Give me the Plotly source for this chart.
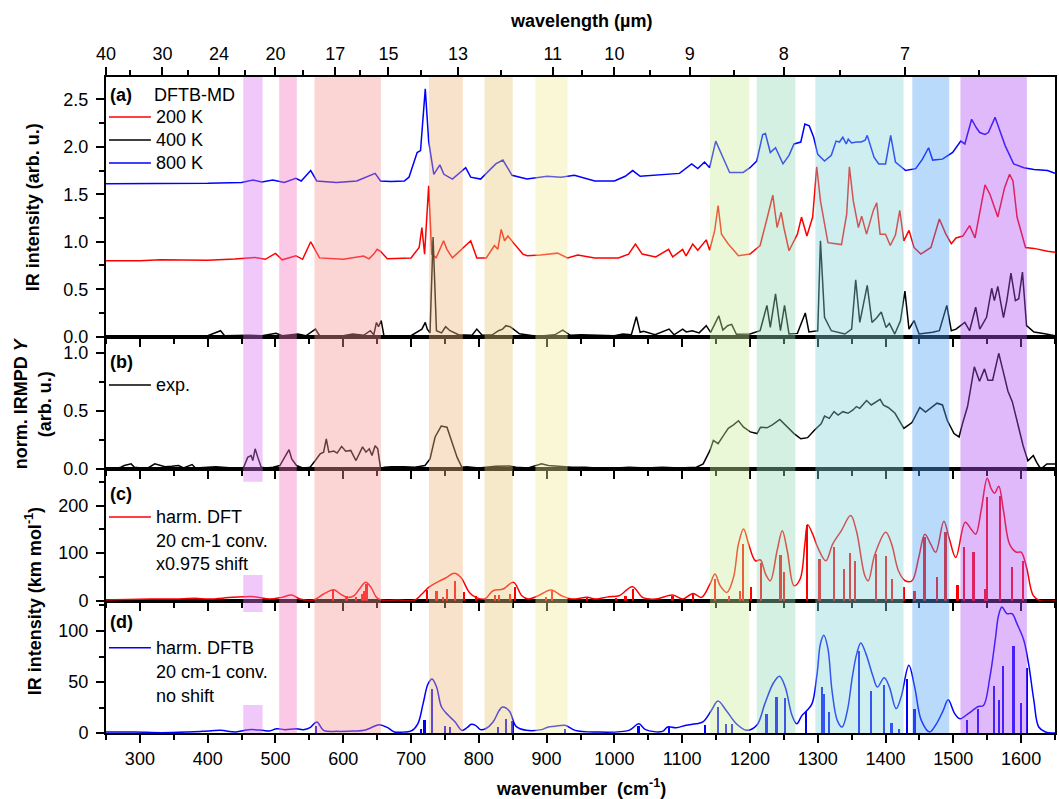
import plotly.graph_objects as go

# ---------------- data ----------------
# Panel (a): DFTB-MD spectra (wavenumber, intensity)
a800_x = [250,300,350,400,450,467,480,496,513,530,538,552,561,590,620,635,647,655,670,690,697,709,714,721,726,733.6,742.5,748.5,761,780.6,788,802.6,815,825,835.5,842,849,871,901,921,941,971,1000,1016,1027,1038,1071,1096,1114,1123,1133,1140.5,1149.5,1158,1170,1190,1200,1210,1218.8,1222.8,1230,1237.7,1248.7,1257.6,1265,1275,1281,1287.5,1294,1300,1310,1320,1323,1327,1332,1337,1342,1345,1350,1357,1364,1370,1373,1378,1383,1390,1400,1407.6,1414.6,1429.6,1444.5,1454.5,1463.5,1469.5,1484,1499,1511,1517,1527,1534,1539,1546.7,1551.7,1561.6,1569,1576.6,1589,1604,1619,1639,1650]
a800_y = [1.61,1.61,1.612,1.615,1.625,1.65,1.63,1.65,1.625,1.667,1.64,1.75,1.64,1.625,1.64,1.68,1.72,1.64,1.635,1.64,1.68,1.94,1.96,2.61,2.06,1.71,1.81,1.71,1.66,1.78,1.68,1.66,1.75,1.82,1.86,1.78,1.70,1.66,1.69,1.68,1.70,1.64,1.64,1.69,1.75,1.69,1.71,1.72,1.82,1.77,1.84,1.78,2.06,1.92,1.73,1.73,1.78,1.85,2.13,2.14,1.94,1.99,1.82,1.91,2.03,2.05,2.24,2.22,2.10,1.92,1.85,1.91,1.98,2.06,2.05,2.10,2.03,2.08,2.04,2.05,2.05,2.07,2.12,2.00,1.89,1.82,1.82,2.12,1.84,1.75,1.77,1.87,1.99,1.86,1.87,1.94,2.06,2.03,2.29,2.20,2.15,2.13,2.15,2.31,2.17,2.01,1.82,1.78,1.76,1.75,1.72]

a200_x = [250,300,330,360,400,440,470,485,500,510,530,540,552,565,600,630,638,645,650,655,665,700,712,716,720,726,730.5,737,748,753,761,788,797,811,823,828,833,838,843,852,865,871.4,891,916,931,946,971,1006,1021,1031,1041,1061,1080,1086,1100.7,1105.7,1115.6,1123,1135.5,1140.5,1148,1153,1158,1168,1175.4,1183,1200,1215,1225,1233.7,1240,1246,1250,1257.6,1270,1276,1284,1292.5,1298.5,1304,1315,1335,1342.7,1346.7,1352.4,1360,1364.8,1372,1382,1387,1392,1400,1407,1414.6,1421,1427,1434.6,1442,1452,1467,1479.4,1489,1497,1504,1514,1524,1532,1539,1546.7,1554,1565.6,1575.6,1583,1588,1594,1606.5,1619,1639,1650]
a200_y = [0.80,0.80,0.81,0.805,0.805,0.818,0.835,0.815,0.877,0.81,0.853,0.815,1.00,0.83,0.815,0.85,0.82,0.87,0.92,0.90,0.82,0.83,0.94,1.15,0.87,1.59,0.87,0.83,1.01,0.92,0.83,1.01,0.83,0.83,0.96,0.92,1.13,1.01,1.06,0.98,0.87,0.853,0.86,0.88,0.83,0.86,0.83,0.83,0.87,0.976,0.87,0.84,0.92,0.84,0.92,0.85,0.976,0.91,1.02,0.91,1.12,1.38,1.08,0.976,0.92,0.853,0.87,0.96,1.24,1.49,1.15,1.31,1.15,0.905,1.08,1.26,1.06,1.26,1.79,1.43,0.99,0.97,1.29,1.79,1.43,1.15,1.27,1.08,1.33,1.41,1.08,1.08,0.96,1.07,1.33,1.01,1.12,0.94,0.87,0.94,1.24,1.08,0.98,1.04,1.06,1.17,1.04,1.29,1.60,1.50,1.26,1.57,1.71,1.64,1.26,0.94,0.93,0.90,0.89]

a400_x = [250,300,350,400,419,425,460,480,501,510,533,545,559,565,600,614,630,640,645,649,652,656,660,700,716,721,724,728,732.5,737.5,745,751,757.5,770,790,797,805,820,829,835,840,846,851,860,880,896,912,923.8,935,951,1000,1012.5,1025,1032.4,1038,1043,1060,1080.7,1088,1100.7,1106,1115,1125,1135.5,1142,1154,1160,1167,1173,1180,1200,1215,1225,1230,1237.7,1245,1251,1257.6,1270,1281.6,1287,1300,1304,1310,1320,1340,1350,1356,1362,1373,1380,1387,1393.7,1400.7,1405.7,1413.6,1422,1428.6,1434.6,1442,1449.5,1469.5,1479.4,1490.4,1497,1504,1517,1524,1533,1539,1549,1556.6,1560.6,1565.6,1574,1579,1585,1591.6,1596.5,1602,1608,1619,1635,1650]
a400_y = [0.005,0.005,0.008,0.01,0.063,0.01,0.015,0.01,0.035,0.01,0.028,0.01,0.08,0.01,0.01,0.028,0.015,0.063,0.02,0.15,0.105,0.17,0.01,0.01,0.08,0.15,0.08,0.04,1.05,0.063,0.04,0.105,0.063,0.02,0.015,0.08,0.015,0.02,0.063,0.08,0.116,0.105,0.08,0.03,0.01,0.01,0.02,0.07,0.015,0.02,0.01,0.028,0.02,0.21,0.046,0.056,0.02,0.08,0.02,0.08,0.05,0.063,0.04,0.116,0.046,0.22,0.07,0.116,0.13,0.025,0.028,0.063,0.33,0.098,0.45,0.063,0.33,0.028,0.035,0.25,0.05,0.063,1.01,0.204,0.063,0.028,0.08,0.60,0.15,0.54,0.15,0.2,0.26,0.098,0.14,0.028,0.168,0.48,0.08,0.17,0.028,0.046,0.063,0.33,0.063,0.08,0.15,0.063,0.31,0.08,0.204,0.51,0.38,0.53,0.20,0.38,0.67,0.38,0.40,0.68,0.116,0.05,0.03,0.01]

# Panel (b): experimental IRMPD yield
exp_x = [250,265,272,277,287,292,302,312,322,327,337,347,357,364.5,377,382,402,412,437,452.7,459,464,466.6,470,474,479,486.5,496.5,506.5,513,520,524,531,541,551,558.8,566,571,575,578.7,586,591,597.6,603.6,611,618.8,628.5,633.5,638.4,642.4,647,650.9,655,661,671,690,705.6,720.6,728,735.5,744.5,753,760,768,775,782,800,810,825,845,855,872.7,892.5,902.5,922.4,937,957,972,997,1021.7,1046.5,1071,1096,1121,1131,1141,1146,1153,1161,1168,1175.7,1183,1190.6,1200.5,1210.5,1215.5,1225,1233,1244,1255,1265,1275,1285,1295,1305,1310,1317,1324,1330,1337,1344.6,1352,1357,1362,1372,1379,1392,1397,1404,1414,1427,1439,1450.6,1459,1476,1484,1491,1501,1508.5,1513.5,1521,1531,1538.6,1546,1551,1558,1567,1574,1580.6,1587,1593,1603,1610,1618,1623,1629,1638,1650]
exp_y = [0,0.005,0.015,0.03,0.044,0.015,0.009,0.009,0.044,0.035,0.02,0.023,0.03,0.009,0.038,0.009,0.015,0.02,0.009,0.009,0.10,0.116,0.073,0.174,0.10,0.015,0.009,0.015,0.03,0.10,0.166,0.087,0.03,0.006,0.015,0.073,0.13,0.145,0.26,0.145,0.154,0.137,0.195,0.154,0.16,0.073,0.19,0.145,0.174,0.116,0.20,0.174,0.006,0.015,0.02,0.02,0.015,0.03,0.087,0.276,0.37,0.36,0.23,0.10,0.015,0.02,0.009,0.015,0.023,0.026,0.015,0.009,0.044,0.03,0.02,0.015,0.015,0.009,0.006,0.015,0.009,0.015,0.009,0.015,0.044,0.16,0.247,0.218,0.29,0.35,0.38,0.416,0.36,0.32,0.305,0.36,0.355,0.38,0.427,0.36,0.305,0.26,0.27,0.334,0.39,0.456,0.436,0.494,0.465,0.494,0.48,0.509,0.538,0.523,0.59,0.552,0.60,0.55,0.53,0.48,0.35,0.40,0.53,0.49,0.567,0.552,0.42,0.305,0.276,0.39,0.538,0.88,0.756,0.863,0.765,0.765,0.997,0.83,0.67,0.58,0.44,0.20,0.07,0.116,0.058,0.0,0.044,0.044]

# Panel (c): harmonic DFT, convoluted curve and stick spectrum
dft_x = [250,317,352,382,402,437,469,491.5,509,524,536,556,571,586,596,606,616,624,633,641,649,656,681,706,716,726,741,751,763.5,773.6,786,796,808.8,821,836,851,863.5,872.7,887.6,906.5,922,937,960,972,992,1007,1026.7,1041.6,1061,1086,1101,1116,1128.5,1141,1148.4,1156,1166,1175.7,1183,1190.6,1198,1208,1215.5,1223,1230,1240,1247.7,1255,1265,1274,1281,1285,1292.5,1300,1312,1322,1334.7,1348.6,1357,1369.5,1374.4,1384.4,1400.3,1409,1419,1429,1439,1449,1458,1466.6,1474,1486,1493.6,1503.6,1517.5,1526,1533,1541,1550,1556,1561,1567,1574,1583,1593,1600,1608,1618,1628,1650]
dft_y = [1.4,3.5,3.5,4.9,3.5,7,8.4,3.5,7,12,3.5,1.4,14,23,14,7,10.5,24.6,38.6,28,7,1.4,1.4,1.4,14,28,40.7,47.7,57.5,49,17.5,7,3.5,21,24.6,38.6,10.5,3.5,10.5,22.5,10.5,3.5,7,3.5,8.4,10.5,29.5,7,3.5,12,3.5,15.4,7,35,56,31.6,17.5,49,119,151,119,84,85.6,56,42,105,147,105,31.6,45.6,119,160,140,112,84,119,147,179,147,52.6,42,98,144,119,63,42,42,91,140,119,102,167,133,91,165,151,140,189.5,257.5,235,226,240.7,189.5,119,102,102,70,10.5,0,0]
dft_stick_x = [585.7,605,619.5,628.5,631,634.5,724,738,748,753,765.6,778,795.7,824.6,829.7,846,853.6,900,908.4,959.6,1002.8,1016.7,1028,1086,1116,1148.4,1169.7,1185.6,1189.6,1201.5,1217,1245.3,1251,1284.5,1302.9,1324.7,1338.6,1348,1355.5,1386.8,1400.7,1410,1427.6,1443,1458,1476.6,1489,1506.7,1516.6,1530,1548,1550,1569.4,1587.3,1602.7]
dft_stick_y = [22,10,7,14,21,35,22,21,7,24.6,40.7,19,9,12,12.6,14,28,7,21,8.4,5,10.5,24.6,10.5,14,45.6,10.5,21,119,29.5,79,97,60,159,88,114,67,100,84,98,95,45.6,28,21,135,50.5,144,33.7,112,102,24.6,217.5,219.6,70,84]

# Panel (d): harmonic DFTB, convoluted curve and stick spectrum
dftb_x = [250,292,332,372,392,419,441.4,461,481,491,502,513.6,531,541,551,561,571,591,616,631,641,653,665.5,675.5,690.6,700.4,710,717.8,725,731,737.7,745,755,765,775,782.6,789,795,802.5,810,821,830,835,845,855,870,892.6,902.5,912.4,927,942,972,1021.5,1036,1046,1071,1078.5,1091,1105.7,1120.6,1130.5,1143,1152.8,1165,1180,1195,1210,1222,1234.6,1243.6,1252,1262,1269,1276.8,1284,1291.6,1299,1304,1309,1315,1321,1328.8,1336,1343.7,1351,1357.6,1363.5,1371,1381,1388,1398,1405.7,1415.6,1423,1434.4,1443,1452.8,1465,1475,1485,1492.4,1502,1509.8,1522,1532,1537,1544.5,1554,1561.8,1566.8,1571.7,1579,1586.6,1594,1604,1611,1618.8,1626,1636,1650]
dftb_y = [1,1,0.3,1,1.6,2.6,1,3.3,2.6,2,4.2,3.3,4.2,3.3,5.2,10.8,2.6,1.6,2,2.6,5.2,8.2,5.2,1,1,2,9,28.8,48,53,45,25.5,17.3,10.8,2.6,5.2,8.5,7.5,3.3,4.2,10.8,22,25.5,21.6,6.5,2.6,3.3,5.9,6.5,7.5,2.6,1,2.6,9,3.3,1.6,5.9,5.2,7.5,9,10.8,22,31.4,22,9,2.6,7.5,28.8,49,55.6,45,17.3,9,17.3,22,28.8,58,87.6,95.8,82.7,41.8,12.4,5.9,22,55,77.8,88.2,77.8,56.5,45,54.2,45,23.9,35.3,66.3,45,12.4,1,9,22,32.7,19,14,19,23.9,26,27,55,91,115.4,123.5,117,117,107,91,68,32,5.9,1,0]
dftb_stick_x = [560,715.3,720.3,731.8,751,757.7,829,841,850,927,1036,1081,1134.5,1152.8,1165.2,1173.7,1224.7,1239.6,1252,1283.2,1307,1310,1317.4,1361,1378.4,1398.2,1409,1420.6,1432,1443,1521,1537,1560,1568,1574,1589,1600,1609]
dftb_stick_y = [7.5,4.2,13.4,43.5,7.5,6.5,6,14,11.8,4.2,7.5,5.9,8.5,26,9,9,19,36,34.6,22,45.8,38.6,21.2,81,41.8,47.7,10,4.2,53.3,23.9,13,23.9,46,32.7,66.3,86,29.7,64]

# Wavelength axis (µm)
wl_major = [40, 30, 24, 20, 17, 15, 13, 11, 10, 9, 8, 7]
wl_minor = [35, 27, 22, 18.5, 16, 14, 12, 10.5, 9.5, 8.5, 7.5, 6.5]

# Highlighted bands (cm-1)
band_lo = [452.5, 505.5, 557.5, 726.5, 808.5, 883.5, 1141, 1210, 1296.5, 1439.5, 1510.5]
band_hi = [481, 531.5, 655.5, 776.5, 850, 931, 1199, 1267, 1426.5, 1494, 1608.5]
band_col = ["rgba(218,118,243,0.4)", "rgba(245,117,193,0.4)", "rgba(245,150,147,0.4)",
            "rgba(238,183,128,0.4)", "rgba(233,200,122,0.4)", "rgba(242,235,155,0.4)",
            "rgba(205,238,155,0.4)", "rgba(148,218,183,0.4)", "rgba(133,213,218,0.4)",
            "rgba(80,163,243,0.4)", "rgba(175,80,243,0.4)"]

# ---------------- figure ----------------
FONT = "Liberation Sans, Arial, sans-serif"
W, H = 1059, 799
ML, MR, MT, MB = 106, 2, 77, 66
PW, PH = W - ML - MR, H - MT - MB


def px(xp):
    return (xp - ML) / PW


def py(yp):
    return (H - MB - yp) / PH


RED, BLUE, BLACK = "#ff0000", "#0000ff", "#000000"

fig = go.Figure()
# (d)
fig.add_trace(go.Bar(x=dftb_stick_x, y=dftb_stick_y, width=2.6, marker=dict(color=BLUE, line=dict(width=0)),
                     xaxis="x", yaxis="y", showlegend=False, hoverinfo="skip"))
fig.add_trace(go.Scatter(x=dftb_x, y=dftb_y, mode="lines", line=dict(color=BLUE, width=1.5, shape="spline", smoothing=1.0),
                         xaxis="x", yaxis="y", showlegend=False))
# (c)
fig.add_trace(go.Bar(x=dft_stick_x, y=dft_stick_y, width=2.6, marker=dict(color=RED, line=dict(width=0)),
                     xaxis="x2", yaxis="y2", showlegend=False, hoverinfo="skip"))
fig.add_trace(go.Scatter(x=dft_x, y=dft_y, mode="lines", line=dict(color=RED, width=1.5, shape="spline", smoothing=1.0),
                         xaxis="x2", yaxis="y2", showlegend=False))
# (b)
fig.add_trace(go.Scatter(x=exp_x, y=exp_y, mode="lines", line=dict(color=BLACK, width=1.5),
                         xaxis="x3", yaxis="y3", showlegend=False))
# (a)
fig.add_trace(go.Scatter(x=a200_x, y=a200_y, mode="lines", line=dict(color=RED, width=1.5),
                         xaxis="x4", yaxis="y4", showlegend=False))
fig.add_trace(go.Scatter(x=a800_x, y=a800_y, mode="lines", line=dict(color=BLUE, width=1.5),
                         xaxis="x4", yaxis="y4", showlegend=False))
fig.add_trace(go.Scatter(x=a400_x, y=a400_y, mode="lines", line=dict(color=BLACK, width=1.5),
                         xaxis="x4", yaxis="y4", showlegend=False))
# dummy trace to activate top wavelength axis
fig.add_trace(go.Scatter(x=[1000], y=[1], mode="markers", marker=dict(opacity=0),
                         xaxis="x5", yaxis="y4", showlegend=False, hoverinfo="skip"))

tickfont = dict(family=FONT, size=18, color="black")
common_x = dict(range=[250, 1650], tick0=0, dtick=100, ticks="outside", ticklen=8, tickwidth=2,
                tickcolor="black", showline=True, linewidth=2, linecolor="black", mirror=True,
                showgrid=False, zeroline=False, tickfont=tickfont,
                minor=dict(tick0=0, dtick=50, ticks="outside", ticklen=5, tickwidth=2, tickcolor="black"))


def yax(domain, rng, dtick, mdtick, fmt=None):
    d = dict(domain=domain, range=rng, tick0=0, dtick=dtick, ticks="outside", ticklen=8, tickwidth=2,
             tickcolor="black", showline=True, linewidth=2, linecolor="black", mirror=True,
             showgrid=False, zeroline=False, tickfont=tickfont, ticklabelstandoff=4,
             minor=dict(tick0=0, dtick=mdtick, ticks="outside", ticklen=5, tickwidth=2, tickcolor="black"))
    if fmt:
        d["tickformat"] = fmt
    return d


b_cd = py(600.7)
b_bc = py(469)
b_ab = py(336.7)

wl_vals = [10000.0 / w for w in wl_major]
wl_minor_vals = [10000.0 / w for w in wl_minor]

fig.update_layout(
    width=W, height=H, margin=dict(l=ML, r=MR, t=MT, b=MB),
    paper_bgcolor="white", plot_bgcolor="white",
    font=dict(family=FONT, size=18, color="black"),
    showlegend=False, bargap=0,
    xaxis=dict(common_x, anchor="y", domain=[0, 1]),
    xaxis2=dict(common_x, anchor="y2", domain=[0, 1], showticklabels=False, matches="x"),
    xaxis3=dict(common_x, anchor="y3", domain=[0, 1], showticklabels=False, matches="x"),
    xaxis4=dict(common_x, anchor="y4", domain=[0, 1], showticklabels=False, matches="x"),
    xaxis5=dict(overlaying="x4", anchor="y4", side="top", range=[250, 1650], tickmode="array",
                tickvals=wl_vals, ticktext=[str(w) for w in wl_major], ticks="outside", ticklen=8,
                tickwidth=2, tickcolor="black", showline=True, linewidth=2, linecolor="black",
                showgrid=False, zeroline=False, tickfont=tickfont,
                minor=dict(tickmode="array", tickvals=wl_minor_vals, ticks="outside", ticklen=5,
                           tickwidth=2, tickcolor="black")),
    yaxis=yax([0, b_cd], [0, 129.7], 50, 25),
    yaxis2=yax([b_cd, b_bc], [0, 277], 100, 50),
    yaxis3=yax([b_bc, b_ab], [0, 1.14], 0.5, 0.25, ".1f"),
    yaxis4=yax([b_ab, 1], [0, 2.735], 0.5, 0.25, ".1f"),
)

shapes = []
for lo, hi, col in zip(band_lo, band_hi, band_col):
    shapes.append(dict(type="rect", xref="x", yref="paper", x0=lo, x1=hi, y0=0, y1=1,
                       fillcolor=col, line=dict(width=0), layer="above"))
# white legend backgrounds in (c) and (d)
shapes.append(dict(type="rect", xref="x2", yref="y2", x0=253, x1=486, y0=54, y1=250,
                   fillcolor="white", line=dict(width=0), layer="above"))
shapes.append(dict(type="rect", xref="x", yref="y", x0=253, x1=486, y0=27.5, y1=118.6,
                   fillcolor="white", line=dict(width=0), layer="above"))
# legend line samples
for yp, col in [(117, RED), (140, BLACK), (163, BLUE), (385, BLACK), (517, RED), (647.7, BLUE)]:
    shapes.append(dict(type="line", xref="paper", yref="paper", x0=px(109), x1=px(151), y0=py(yp), y1=py(yp),
                       line=dict(color=col, width=1.5), layer="above"))
fig.update_layout(shapes=shapes)

ann = []


def txt(text, xp, yp, xanchor="left", angle=0, yanchor="middle"):
    ann.append(dict(text=text, x=px(xp), y=py(yp), xref="paper", yref="paper", xanchor=xanchor,
                    yanchor=yanchor, showarrow=False, textangle=angle, font=dict(family=FONT, size=18, color="black")))


txt("<b>(a)</b>", 108, 95)
txt("DFTB-MD", 152, 95)
txt("200 K", 154, 117)
txt("400 K", 154, 140)
txt("800 K", 154, 163)
txt("<b>(b)</b>", 108, 362)
txt("exp.", 154, 385)
txt("<b>(c)</b>", 108, 494)
txt("harm. DFT", 154, 517)
txt("20 cm-1 conv.", 154, 541)
txt("x0.975 shift", 154, 564)
txt("<b>(d)</b>", 108, 622)
txt("harm. DFTB", 154, 648)
txt("20 cm-1 conv.", 154, 672)
txt("no shift", 154, 696)
# axis titles
txt("<b>wavelength (µm)</b>", 581.5, 21, xanchor="center")
txt("<b>wavenumber  (cm<sup>-1</sup>)</b>", 581.5, 788, xanchor="center")
txt("<b>IR intensity (arb. u.)</b>", 33, 207, xanchor="center", angle=-90)
txt("<b>norm. IRMPD <i>Y</i><br>(arb. u.)</b>", 32, 403, xanchor="center", angle=-90)
txt("<b>IR intensity (km mol<sup>-1</sup>)</b>", 33, 601, xanchor="center", angle=-90)
fig.update_layout(annotations=ann)

fig.write_html("out.html", config={"displayModeBar": False},
               post_script="document.body.style.margin='0';document.body.style.overflow='hidden';")
